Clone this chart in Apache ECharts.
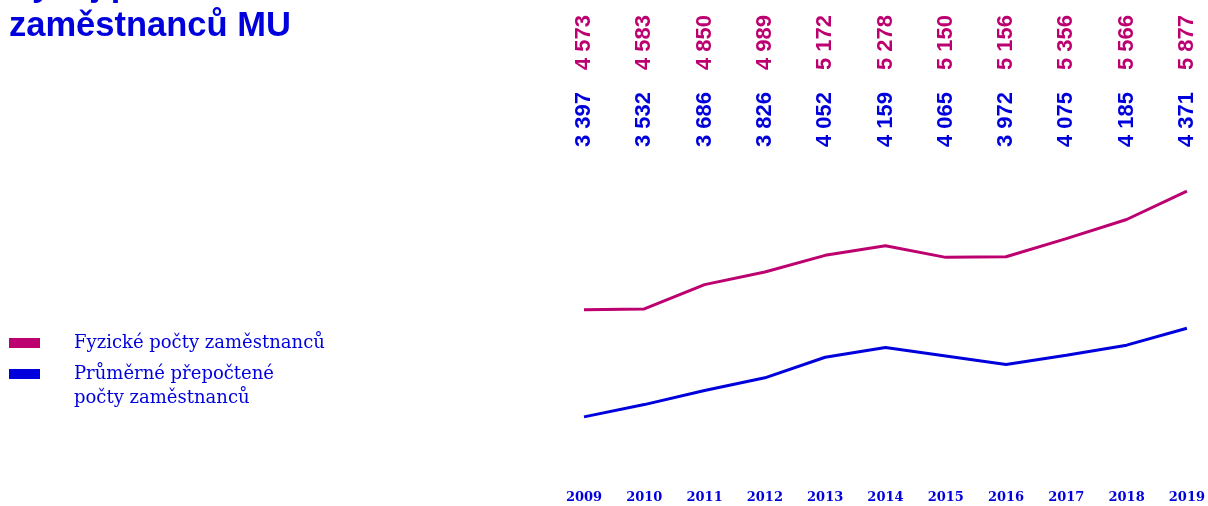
<!DOCTYPE html>
<html>
<head>
<meta charset="utf-8">
<script src="https://cdn.jsdelivr.net/npm/echarts@6/dist/echarts.min.js"></script>
<style>
  html, body { margin: 0; padding: 0; background: #fff; }
  #chart { width: 1208px; height: 506px; }
</style>
</head>
<body>
<div id="chart"></div>
<script>
// data
const years = ['2009', '2010', '2011', '2012', '2013', '2014', '2015', '2016', '2017', '2018', '2019']
const fyzicke = [4573, 4583, 4850, 4989, 5172, 5278, 5150, 5156, 5356, 5566, 5877]
const prepoctene = [3397, 3532, 3686, 3826, 4052, 4159, 4065, 3972, 4075, 4185, 4371]
const seriesNames = ['Fyzické počty zaměstnanců', 'Průměrné přepočtené počty zaměstnanců']

const PINK = '#bd006f'
const BLUE = '#0000dc'

// 4573 -> "4 573"
const fmt = v => String(v).replace(/\B(?=(\d{3})+(?!\d))/g, ' ')

const chart = echarts.init(document.getElementById('chart'))

// horní řady hodnot (otočené popisky)
const valueAxis = (values, color, offset) => ({
  type: 'category',
  data: years,
  position: 'top',
  boundaryGap: false,
  offset: offset,
  axisLine: { show: false },
  axisTick: { show: false },
  splitLine: { show: false },
  axisLabel: {
    interval: 0,
    rotate: -90,
    margin: 0,
    color: color,
    fontFamily: 'Liberation Sans, Arial, sans-serif',
    fontWeight: 'bold',
    fontSize: 22,
    formatter: (v, i) => fmt(values[i])
  }
})

const legendText = {
  color: BLUE,
  fontFamily: 'DejaVu Serif, serif',
  fontSize: 18,
  lineHeight: 24,
  padding: [0, 0, 0, 29]
}

const option = {
  animation: false,
  backgroundColor: '#fff',
  title: {
    text: 'Vývoj počtu\nzaměstnanců MU',
    left: 9,
    top: -34,
    padding: 0,
    textStyle: {
      color: BLUE,
      fontFamily: 'Liberation Sans, Arial, sans-serif',
      fontWeight: 'bold',
      fontSize: 34.5,
      lineHeight: 40
    }
  },
  legend: [
    {
      orient: 'vertical',
      left: 9,
      top: 331,
      padding: 0,
      data: [seriesNames[0]],
      itemWidth: 31,
      itemHeight: 10,
      icon: 'rect',
      textStyle: legendText
    },
    {
      orient: 'vertical',
      left: 9,
      top: 338,
      padding: 0,
      data: [seriesNames[1]],
      itemWidth: 31,
      itemHeight: 10,
      icon: 'rect',
      // prázdný první řádek, aby ikonka seděla u prvního řádku textu
      formatter: () => ' \nPrůměrné přepočtené\npočty zaměstnanců',
      textStyle: legendText
    }
  ],
  grid: {
    left: 584,
    right: 20,
    top: 180,
    bottom: 53
  },
  xAxis: [
    {
      type: 'category',
      data: years,
      boundaryGap: false,
      axisLine: { show: false },
      axisTick: { show: false },
      splitLine: { show: false },
      axisLabel: {
        interval: 0,
        margin: 38,
        color: BLUE,
        fontFamily: 'DejaVu Serif, serif',
        fontWeight: 'bold',
        fontSize: 13
      }
    },
    valueAxis(prepoctene, BLUE, 33),
    valueAxis(fyzicke, PINK, 110)
  ],
  yAxis: {
    type: 'value',
    min: 3000,
    max: 6000,
    show: false,
    splitLine: { show: false }
  },
  series: [
    {
      name: seriesNames[0],
      type: 'line',
      data: fyzicke,
      showSymbol: false,
      color: PINK,
      lineStyle: { width: 3, color: PINK }
    },
    {
      name: seriesNames[1],
      type: 'line',
      data: prepoctene,
      showSymbol: false,
      color: BLUE,
      lineStyle: { width: 3, color: BLUE }
    }
  ]
}

chart.setOption(option)
</script>
</body>
</html>
